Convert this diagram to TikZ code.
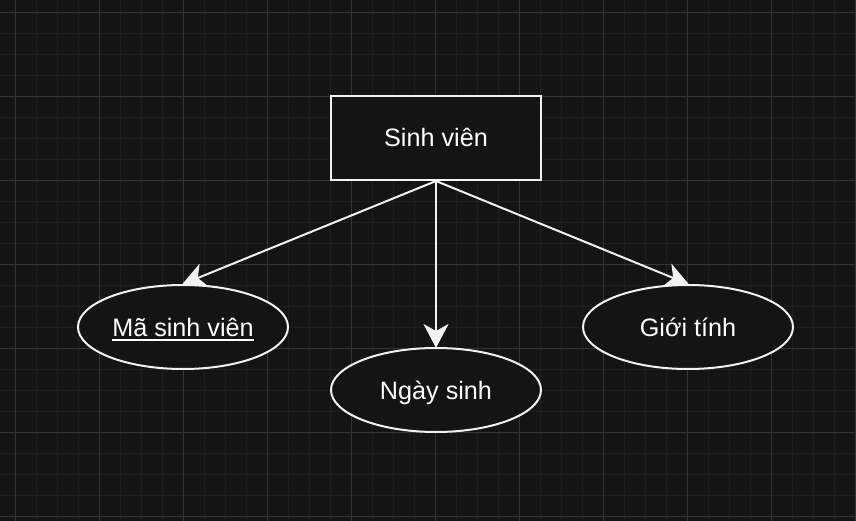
\documentclass[tikz,border=0pt]{standalone}
\usepackage{fontspec}
\setmainfont{Liberation Sans}
\usetikzlibrary{arrows.meta,shapes.geometric}
\definecolor{bgc}{HTML}{141414}
\definecolor{minorc}{HTML}{1E1E1E}
\definecolor{majorc}{HTML}{353535}
\definecolor{strokec}{HTML}{F2F2F2}
\newcommand\myul[1]{\setbox0\hbox{#1}\rlap{\rule[-4.5pt]{\wd0}{1.8pt}}\box0}
\tikzset{
  shapebase/.style={draw=strokec, fill=bgc, line width=2pt, text=white,
    font=\fontsize{25.2}{30}\selectfont, inner sep=0pt, text height=18pt, text depth=0pt},
  entitybox/.style={shapebase, rectangle, minimum width=210pt, minimum height=84pt},
  attrell/.style={shapebase, ellipse, minimum width=210pt, minimum height=84pt},
  link/.style={draw=strokec, line width=2pt,
    -{Stealth[length=24pt,width=25pt,inset=7pt]}, shorten >=-1pt},
  gridminor/.style={draw=minorc, line width=1pt},
  gridmajor/.style={draw=majorc, line width=1pt}
}
\begin{document}
\begin{tikzpicture}[x=1pt,y=-1pt]
\fill[bgc] (0,0) rectangle (856,521);
\useasboundingbox (0,0) rectangle (856,521);
% minor grid
\foreach \i in {0,...,40} {\draw[gridminor] ({15.5+21*\i-21},0) -- ({15.5+21*\i-21},521);}
\foreach \j in {0,...,25} {\draw[gridminor] (0,{12.5+21*\j-21}) -- (856,{12.5+21*\j-21});}
% major grid
\foreach \i in {0,...,10} {\draw[gridmajor] ({15.5+84*\i},0) -- ({15.5+84*\i},521);}
\foreach \j in {0,...,6} {\draw[gridmajor] (0,{12.5+84*\j}) -- (856,{12.5+84*\j});}

\node[entitybox] (sv) at (436,138) {Sinh viên};
\node[attrell] (ma) at (183,327) {\myul{Mã sinh viên}};
\node[attrell] (ns) at (436,390) {Ngày sinh};
\node[attrell] (gt) at (688,327) {Giới tính};

\draw[link] (sv.south) -- (ma.north);
\draw[link] (sv.south) -- (ns.north);
\draw[link] (sv.south) -- (gt.north);
\end{tikzpicture}
\end{document}
